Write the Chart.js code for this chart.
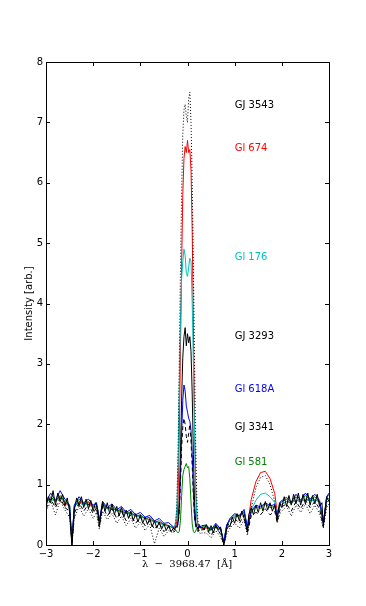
<!DOCTYPE html>
<html>
<head>
<meta charset="utf-8">
<script src="https://cdn.jsdelivr.net/npm/chart.js@4.4.1/dist/chart.umd.min.js"></script>
<style>
  html, body { margin: 0; padding: 0; background: #fff; }
  canvas { display: block; }
</style>
</head>
<body>
<canvas id="spec" width="366" height="606"></canvas>
<script>
/* Ca II H line profiles, wavelength offset from 3968.47 A */

// coarse sampling, used by most stars
var wavelength = [
  -3.0, -2.9, -2.8, -2.7, -2.6, -2.5, -2.45, -2.4, -2.3, -2.2, -2.1, -2.0, -1.93, -1.87, -1.8,
  -1.7, -1.6, -1.5, -1.4, -1.3, -1.2, -1.1, -1.0, -0.9, -0.8, -0.7, -0.6, -0.5, -0.4,
  -0.3, -0.275, -0.25, -0.225, -0.2, -0.175, -0.15, -0.125, -0.1, -0.075, -0.05, -0.025, 0,
  0.025, 0.05, 0.075, 0.1, 0.125, 0.15, 0.175, 0.2, 0.225, 0.25, 0.275, 0.3,
  0.4, 0.5, 0.6, 0.7, 0.77, 0.83, 0.9, 1.0, 1.1, 1.2, 1.27, 1.35, 1.45, 1.55, 1.65,
  1.75, 1.85, 1.9, 1.97, 2.1, 2.2, 2.3, 2.4, 2.5, 2.6, 2.7, 2.8, 2.88, 2.95, 3.0
];

// finer sampling for GJ 3293
var wavelengthFine = [
  -3.0, -2.95, -2.9, -2.85, -2.8, -2.75, -2.7, -2.65, -2.6, -2.55,
  -2.5, -2.45, -2.4, -2.35, -2.3, -2.25, -2.2, -2.15, -2.1, -2.05,
  -2.0, -1.95, -1.9, -1.87, -1.8, -1.75, -1.7, -1.65, -1.6, -1.55,
  -1.5, -1.45, -1.4, -1.35, -1.3, -1.25, -1.2, -1.15, -1.1, -1.05,
  -1.0, -0.95, -0.9, -0.85, -0.8, -0.75, -0.7, -0.65, -0.6, -0.55,
  -0.5, -0.45, -0.4, -0.35,
  -0.3, -0.275, -0.25, -0.225, -0.2, -0.175, -0.15, -0.125, -0.1, -0.075, -0.05, -0.025, 0,
  0.025, 0.05, 0.075, 0.1, 0.125, 0.15, 0.175, 0.2, 0.225, 0.25, 0.275, 0.3,
  0.35, 0.4, 0.45, 0.5, 0.55, 0.6, 0.65, 0.7, 0.77, 0.8,
  0.85, 0.9, 0.95, 1.0, 1.05, 1.1, 1.15, 1.2, 1.27, 1.3,
  1.35, 1.4, 1.45, 1.5, 1.55, 1.6, 1.65, 1.7, 1.75, 1.8,
  1.85, 1.9, 1.95, 2.0, 2.05, 2.1, 2.15, 2.2, 2.25, 2.3,
  2.35, 2.4, 2.45, 2.5, 2.55, 2.6, 2.65, 2.7, 2.75, 2.8,
  2.85, 2.88, 2.95, 3.0
];

var gj3543 = [
  0.56, 0.72, 0.50, 0.74, 0.58, 0.46, 0.00, 0.44, 0.64, 0.48, 0.60, 0.44, 0.54, 0.26, 0.56,
  0.42, 0.52, 0.36, 0.48, 0.32, 0.44, 0.28, 0.38, 0.24, 0.34, 0.02, 0.28, 0.14, 0.24,
  0.20, 0.25, 0.35, 0.70, 1.60, 3.00, 4.50, 5.80, 6.80, 7.20, 7.30, 7.10, 7.00,
  7.40, 7.50, 7.00, 6.00, 4.60, 3.00, 1.60, 0.70, 0.35, 0.22, 0.18, 0.20,
  0.20, 0.12, 0.24, 0.13, 0.00, 0.18, 0.28, 0.36, 0.28, 0.42, 0.16, 0.60, 0.95, 1.12, 1.15,
  1.00, 0.72, 0.36, 0.54, 0.64, 0.48, 0.66, 0.54, 0.68, 0.52, 0.66, 0.52, 0.28, 0.62, 0.68
];

var gl674 = [
  0.70, 0.78, 0.74, 0.80, 0.70, 0.64, 0.05, 0.64, 0.72, 0.68, 0.70, 0.64, 0.62, 0.40, 0.66,
  0.62, 0.60, 0.58, 0.56, 0.53, 0.52, 0.49, 0.47, 0.45, 0.42, 0.40, 0.37, 0.35, 0.32,
  0.28, 0.30, 0.32, 0.40, 0.80, 1.80, 3.20, 4.60, 5.80, 6.40, 6.60, 6.50, 6.70,
  6.50, 6.55, 6.20, 5.20, 3.60, 2.00, 0.90, 0.45, 0.32, 0.28, 0.30, 0.27,
  0.28, 0.26, 0.30, 0.27, 0.05, 0.32, 0.42, 0.46, 0.50, 0.52, 0.30, 0.75, 1.05, 1.20, 1.22,
  1.10, 0.85, 0.55, 0.66, 0.72, 0.70, 0.74, 0.72, 0.76, 0.74, 0.75, 0.72, 0.38, 0.74, 0.78
];

var gl176 = [
  0.72, 0.76, 0.72, 0.78, 0.72, 0.66, 0.06, 0.64, 0.70, 0.66, 0.68, 0.62, 0.64, 0.40, 0.65,
  0.60, 0.60, 0.57, 0.55, 0.52, 0.51, 0.48, 0.46, 0.44, 0.41, 0.38, 0.36, 0.33, 0.31,
  0.30, 0.32, 0.38, 0.60, 1.30, 2.60, 3.70, 4.40, 4.70, 4.90, 4.80, 4.50, 4.45,
  4.60, 4.75, 4.70, 4.00, 3.00, 1.80, 0.90, 0.45, 0.32, 0.30, 0.28, 0.29,
  0.30, 0.27, 0.31, 0.28, 0.06, 0.33, 0.42, 0.47, 0.50, 0.54, 0.32, 0.58, 0.74, 0.84, 0.86,
  0.80, 0.70, 0.50, 0.66, 0.72, 0.70, 0.74, 0.72, 0.75, 0.73, 0.74, 0.72, 0.38, 0.74, 0.78
];

var gj3293 = [
  0.62, 0.80, 0.70, 0.90, 0.66, 0.86, 0.72, 0.84, 0.64, 0.78,
  0.55, 0.00, 0.58, 0.78, 0.64, 0.80, 0.62, 0.76, 0.60, 0.74,
  0.56, 0.70, 0.58, 0.32, 0.72, 0.56, 0.70, 0.52, 0.68, 0.50,
  0.64, 0.48, 0.62, 0.46, 0.58, 0.44, 0.56, 0.40, 0.52, 0.38,
  0.50, 0.36, 0.46, 0.34, 0.44, 0.30, 0.40, 0.28, 0.38, 0.26,
  0.35, 0.24, 0.32, 0.22,
  0.28, 0.25, 0.30, 0.32, 0.40, 0.75, 1.50, 2.40, 3.10, 3.45, 3.60, 3.30, 3.50,
  3.35, 3.45, 3.20, 2.50, 1.50, 0.70, 0.38, 0.30, 0.25, 0.32, 0.28, 0.30,
  0.26, 0.34, 0.22, 0.32, 0.20, 0.34, 0.24, 0.30, 0.00, 0.10,
  0.36, 0.30, 0.46, 0.36, 0.52, 0.40, 0.56, 0.44, 0.22, 0.50,
  0.62, 0.50, 0.66, 0.54, 0.70, 0.56, 0.72, 0.58, 0.70, 0.56,
  0.66, 0.40, 0.70, 0.62, 0.80, 0.64, 0.82, 0.66, 0.84, 0.68,
  0.86, 0.66, 0.84, 0.68, 0.86, 0.66, 0.82, 0.68, 0.84, 0.64,
  0.70, 0.32, 0.80, 0.72
];

var gl618a = [
  0.72, 0.86, 0.74, 0.90, 0.76, 0.66, 0.04, 0.66, 0.80, 0.70, 0.76, 0.66, 0.70, 0.40, 0.72,
  0.62, 0.68, 0.58, 0.64, 0.54, 0.59, 0.50, 0.54, 0.46, 0.49, 0.40, 0.44, 0.36, 0.37,
  0.30, 0.28, 0.30, 0.30, 0.36, 0.55, 1.10, 1.80, 2.40, 2.65, 2.55, 2.30, 2.20,
  2.10, 2.05, 1.90, 1.50, 0.90, 0.45, 0.32, 0.30, 0.28, 0.34, 0.30, 0.32,
  0.33, 0.25, 0.36, 0.27, 0.04, 0.33, 0.44, 0.52, 0.48, 0.59, 0.28, 0.56, 0.66, 0.63, 0.70,
  0.65, 0.67, 0.48, 0.72, 0.79, 0.71, 0.84, 0.74, 0.86, 0.76, 0.84, 0.74, 0.36, 0.80, 0.86
];

var gj3341 = [
  0.60, 0.76, 0.62, 0.78, 0.62, 0.56, 0.02, 0.52, 0.70, 0.56, 0.68, 0.52, 0.62, 0.30, 0.64,
  0.48, 0.60, 0.44, 0.56, 0.40, 0.50, 0.36, 0.46, 0.32, 0.40, 0.26, 0.36, 0.22, 0.30,
  0.24, 0.22, 0.26, 0.28, 0.35, 0.55, 1.00, 1.60, 1.95, 2.10, 2.00, 1.80, 1.70,
  1.85, 2.00, 1.70, 1.30, 0.80, 0.45, 0.30, 0.25, 0.22, 0.26, 0.24, 0.25,
  0.26, 0.16, 0.30, 0.18, 0.02, 0.26, 0.34, 0.44, 0.36, 0.50, 0.20, 0.48, 0.54, 0.50, 0.60,
  0.50, 0.56, 0.38, 0.62, 0.68, 0.56, 0.72, 0.60, 0.74, 0.62, 0.72, 0.60, 0.30, 0.70, 0.74
];

var gl581 = [
  0.70, 0.80, 0.72, 0.82, 0.72, 0.64, 0.04, 0.62, 0.76, 0.68, 0.72, 0.64, 0.70, 0.40, 0.70,
  0.60, 0.64, 0.56, 0.60, 0.52, 0.55, 0.48, 0.50, 0.44, 0.46, 0.38, 0.40, 0.34, 0.32,
  0.28, 0.27, 0.25, 0.22, 0.20, 0.22, 0.40, 0.80, 1.15, 1.25, 1.30, 1.35, 1.28,
  1.30, 1.10, 0.70, 0.35, 0.22, 0.20, 0.24, 0.28, 0.27, 0.30, 0.28, 0.30,
  0.30, 0.24, 0.32, 0.25, 0.04, 0.31, 0.42, 0.50, 0.46, 0.56, 0.27, 0.54, 0.64, 0.60, 0.68,
  0.62, 0.64, 0.47, 0.70, 0.76, 0.68, 0.80, 0.72, 0.82, 0.74, 0.80, 0.72, 0.36, 0.78, 0.84
];

var starNames = ['GJ 3543', 'Gl 674', 'Gl 176', 'GJ 3293', 'Gl 618A', 'GJ 3341', 'Gl 581'];
var starLabelY = [7.28, 6.57, 4.77, 3.46, 2.57, 1.95, 1.36];
var starLabelX = 1.0;
var xTicks = [-3, -2, -1, 0, 1, 2, 3];
var yTicks = [0, 1, 2, 3, 4, 5, 6, 7, 8];

var starColors = ['#000000', '#ff0000', '#00bfbf', '#000000', '#0000ff', '#000000', '#008000'];

function pts(xs, ys) {
  return ys.map(function (y, i) { return { x: xs[i], y: y }; });
}

/* frame, inward ticks, axis titles and star labels, matplotlib style */
var framePlugin = {
  id: 'frame',
  afterDatasetsDraw: function (chart) {
    var ctx = chart.ctx, a = chart.chartArea;
    var xs = chart.scales.x, ys = chart.scales.y;
    ctx.save();
    ctx.strokeStyle = '#000';
    ctx.lineWidth = 1;
    ctx.strokeRect(Math.round(a.left) + 0.5, Math.round(a.top) + 0.5,
      Math.round(a.right - a.left), Math.round(a.bottom - a.top));
    ctx.beginPath();
    xTicks.forEach(function (v) {
      var px = Math.round(xs.getPixelForValue(v)) + 0.5;
      ctx.moveTo(px, a.bottom); ctx.lineTo(px, a.bottom - 4);
      ctx.moveTo(px, a.top); ctx.lineTo(px, a.top + 4);
    });
    yTicks.forEach(function (v) {
      var py = Math.round(ys.getPixelForValue(v)) + 0.5;
      ctx.moveTo(a.left, py); ctx.lineTo(a.left + 4, py);
      ctx.moveTo(a.right, py); ctx.lineTo(a.right - 4, py);
    });
    ctx.stroke();

    ctx.font = "10px 'DejaVu Sans'";
    ctx.textBaseline = 'middle';
    ctx.textAlign = 'left';
    starNames.forEach(function (name, i) {
      ctx.fillStyle = starColors[i];
      ctx.fillText(name, xs.getPixelForValue(starLabelX), ys.getPixelForValue(starLabelY[i]));
    });

    ctx.fillStyle = '#000';
    ctx.textAlign = 'center';
    ctx.font = "10px 'DejaVu Serif'";
    ctx.fillText('\u03bb  \u2212  3968.47  [\u00c5]', 187, 564);
    ctx.save();
    ctx.translate(29, (a.top + a.bottom) / 2);
    ctx.rotate(-Math.PI / 2);
    ctx.font = "10px 'DejaVu Sans'";
    ctx.fillText('Intensity [arb.]', 0, 0);
    ctx.restore();
    ctx.restore();
  }
};

function line(label, xs, ys, color, dash, order) {
  return {
    label: label,
    data: pts(xs, ys),
    borderColor: color,
    borderWidth: 1,
    borderDash: dash,
    pointRadius: 0,
    tension: 0,
    order: order
  };
}

new Chart(document.getElementById('spec'), {
  type: 'line',
  data: {
    datasets: [
      line('GJ 3293', wavelengthFine, gj3293, '#000000', [], 1),
      line('GJ 3341', wavelength, gj3341, '#000000', [4, 3], 2),
      line('GJ 3543', wavelength, gj3543, '#000000', [1, 2], 3),
      line('Gl 618A', wavelength, gl618a, '#0000ff', [], 4),
      line('Gl 581', wavelength, gl581, '#008000', [], 5),
      line('Gl 176', wavelength, gl176, '#00bfbf', [], 6),
      line('Gl 674', wavelength, gl674, '#ff0000', [], 7)
    ]
  },
  options: {
    responsive: false,
    animation: false,
    layout: { padding: { top: 62, right: 37, left: 0, bottom: 0 } },
    plugins: { legend: { display: false }, tooltip: { enabled: false } },
    scales: {
      x: {
        type: 'linear', min: -3, max: 3,
        afterFit: function (s) { s.height = 61; },
        afterBuildTicks: function (s) { s.ticks = xTicks.map(function (v) { return { value: v }; }); },
        grid: { display: false, drawTicks: false },
        border: { display: false },
        ticks: {
          color: '#000', padding: 3, maxRotation: 0,
          font: { family: "'DejaVu Sans'", size: 10 },
          callback: function (v) { return String(v).replace('-', '\u2212'); }
        }
      },
      y: {
        type: 'linear', min: 0, max: 8,
        afterFit: function (s) { s.width = 46; },
        afterBuildTicks: function (s) { s.ticks = yTicks.map(function (v) { return { value: v }; }); },
        grid: { display: false, drawTicks: false },
        border: { display: false },
        ticks: {
          color: '#000', padding: 3,
          font: { family: "'DejaVu Sans'", size: 10 }
        }
      }
    }
  },
  plugins: [framePlugin]
});
</script>
</body>
</html>
